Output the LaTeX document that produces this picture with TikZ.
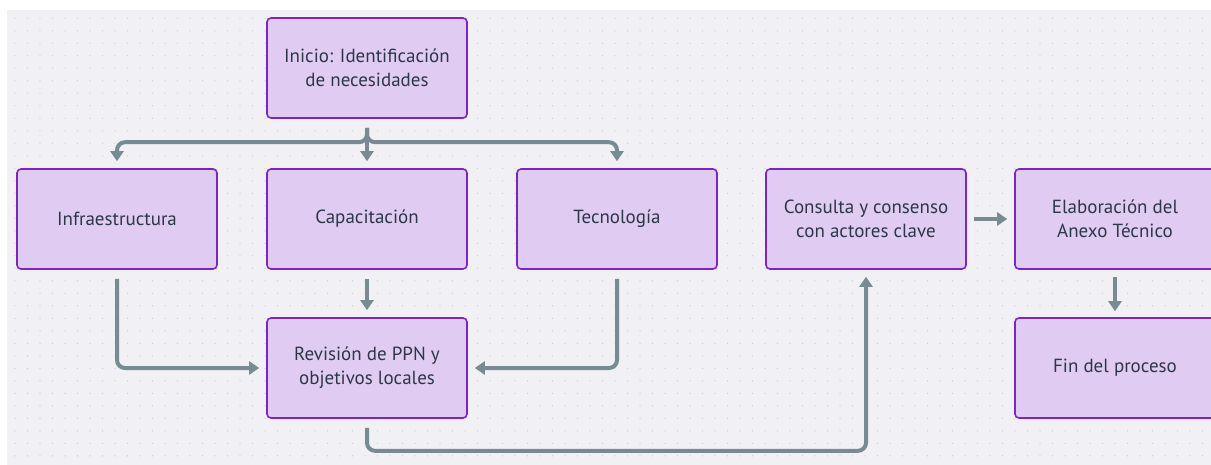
\documentclass[tikz,border=0pt]{standalone}
\usepackage{fontspec}
\setmainfont{PT Sans}
\usepackage{xcolor}
\usetikzlibrary{positioning, calc, arrows.meta}
\definecolor{bggray}{RGB}{240,240,245}
\definecolor{dotgray}{RGB}{198,207,214}
\definecolor{boxfill}{RGB}{224,204,242}
\definecolor{boxline}{RGB}{126,34,206}
\definecolor{txtdark}{RGB}{45,55,72}
\definecolor{flowgray}{RGB}{120,139,147}
\tikzset{stepbox/.style={rectangle, rounded corners=4pt, draw=boxline, line width=1.6pt, fill=boxfill, minimum width=200pt, minimum height=100pt, text=txtdark, align=center, font=\fontsize{19}{24}\selectfont}}
\tikzset{flow/.style={draw=flowgray, line width=4pt, rounded corners=8pt, -{Triangle[width=13pt,length=10pt]}}}

\begin{document}
\begin{tikzpicture}[x=1pt, y=-1pt]
          \clip (0,0) rectangle (1211,465);
          \fill[bggray] (7,10) rectangle (1211,465);
          \foreach \i in {0,...,95}
            \foreach \j in {0,...,35}
              \fill[dotgray] (15+12.5*\i, 18.3+12.5*\j) circle (0.7pt);

          \node[stepbox] (inicio) at (367,68) {Inicio: Identificación\\de necesidades};
          \node[stepbox] (capa) at ($(inicio)+(0,151)$) {Capacitación};
          \node[stepbox] (infra) at ($(capa)-(250,0)$) {Infraestructura};
          \node[stepbox] (tecno) at ($(capa)+(250,0)$) {Tecnología};
          \node[stepbox] (consulta) at ($(tecno)+(249,0)$) {Consulta y consenso\\con actores clave};
          \node[stepbox] (anexo) at ($(consulta)+(249,0)$) {Elaboración del\\Anexo Técnico};
          \node[stepbox] (rev) at ($(capa)+(0,149)$) {Revisión de PPN y\\objetivos locales};
          \node[stepbox] (fin) at ($(anexo)+(0,149)$) {Fin del proceso};

          % fork from the start box
          \draw[flow] ($(inicio.south)+(0,9)$) -- ($(capa.north)+(0,-7)$);
          \draw[flow] ($(inicio.south)+(0,9)$) |- ($(infra.north)+(0,-26)$) -- ($(infra.north)+(0,-7)$);
          \draw[flow] ($(inicio.south)+(0,9)$) |- ($(tecno.north)+(0,-26)$) -- ($(tecno.north)+(0,-7)$);

          \draw[flow] ($(infra.south)+(0,9)$) |- ($(rev.west)+(-7,0)$);
          \draw[flow] ($(capa.south)+(0,9)$) -- ($(rev.north)+(0,-7)$);
          \draw[flow] ($(tecno.south)+(0,9)$) |- ($(rev.east)+(7,0)$);
          \draw[flow] ($(rev.south)+(0,9)$) -- ($(rev.south)+(0,32)$) -| ($(consulta.south)+(0,7)$);
          \draw[flow] ($(consulta.east)+(7,0)$) -- ($(anexo.west)+(-7,0)$);
          \draw[flow] ($(anexo.south)+(0,7)$) -- ($(fin.north)+(0,-6)$);
        \end{tikzpicture}
\end{document}
